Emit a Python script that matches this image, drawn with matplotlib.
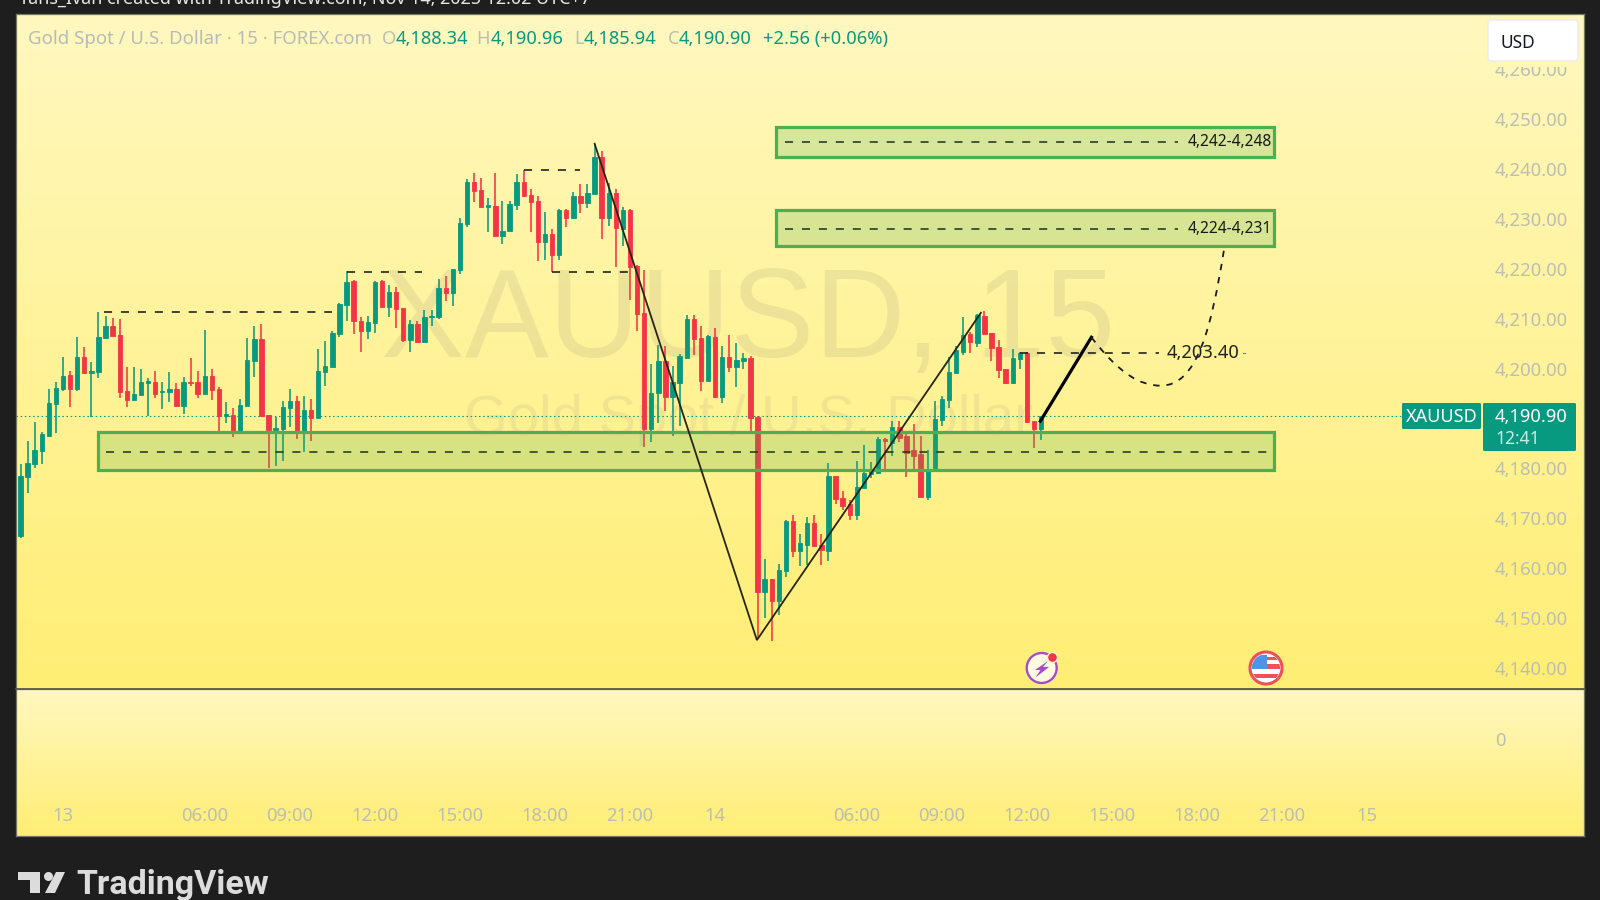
import numpy as np
import matplotlib
matplotlib.use("Agg")
import matplotlib.pyplot as plt
from matplotlib.colors import LinearSegmentedColormap
from matplotlib.patches import Rectangle, Circle, Polygon, FancyBboxPatch, PathPatch
from matplotlib.path import Path

plt.rcParams['font.family'] = ['Noto Sans', 'DejaVu Sans']
plt.rcParams['lines.scale_dashes'] = False

opens = [4166.4,4178.2,4180.9,4183.5,4186.5,4192.9,4195.9,4198.7,4195.9,4202.4,
 4199.1,4199.4,4206.2,4208.6,4206.8,4195.5,4193.7,4194.7,4197.2,4197.4,
 4195.3,4195.3,4195.9,4192.5,4197.4,4197.4,4195.0,4198.6,4195.9,4190.6,
 4190.7,4187.4,4192.5,4201.6,4205.9,4190.7,4187.8,4187.9,4192.2,4193.6,
 4187.4,4191.7,4190.1,4199.4,4200.4,4206.9,4212.8,4217.5,4209.6,4207.6,
 4209.2,4217.5,4212.3,4215.3,4212.1,4205.7,4209.0,4205.3,4210.3,4210.3,
 4216.2,4215.2,4219.7,4229.1,4237.5,4235.9,4232.5,4232.7,4226.7,4227.6,
 4232.9,4237.4,4234.9,4233.7,4225.4,4227.0,4222.8,4231.9,4230.2,4234.7,
 4233.2,4235.1,4242.4,4230.3,4235.2,4228.1,4231.9,4220.5,4211.2,4187.9,
 4195.1,4201.6,4194.4,4197.2,4202.2,4209.9,4206.1,4197.6,4206.4,4194.4,
 4202.4,4200.3,4201.6,4202.1,4190.4,4155.3,4157.8,4153.5,4159.5,4169.4,
 4163.5,4164.7,4169.0,4164.7,4163.5,4178.4,4174.0,4172.8,4170.7,4176.1,
 4178.9,4179.1,4185.9,4185.2,4188.4,4186.6,4183.7,4182.9,4174.2,4179.7,
 4189.7,4193.8,4199.1,4203.4,4206.9,4205.2,4210.6,4207.1,4204.3,4200.0,
 4197.2,4202.0,4203.2,4189.6,4187.9]
highs = [4180.9,4185.6,4189.3,4187.4,4195.9,4197.4,4202.4,4199.6,4206.4,4204.3,
 4201.4,4211.4,4210.6,4210.2,4209.9,4200.3,4200.3,4199.9,4198.1,4199.6,
 4197.4,4199.3,4197.1,4198.4,4202.1,4199.6,4207.8,4199.9,4196.3,4193.4,
 4192.1,4193.9,4206.1,4208.6,4209.0,4190.7,4190.4,4193.6,4195.9,4194.6,
 4194.6,4193.9,4204.0,4205.6,4207.5,4213.2,4219.5,4217.7,4210.3,4210.5,
 4217.5,4217.7,4216.8,4216.3,4212.1,4209.8,4209.5,4211.8,4211.8,4218.0,
 4218.6,4220.0,4230.2,4238.0,4239.3,4238.3,4234.2,4239.3,4233.7,4233.7,
 4239.0,4239.9,4236.0,4234.7,4231.5,4228.0,4232.0,4232.0,4235.5,4237.1,
 4237.0,4245.1,4243.6,4237.3,4236.0,4232.4,4232.0,4220.8,4219.8,4200.9,
 4204.8,4204.6,4200.6,4203.0,4210.8,4210.8,4208.6,4206.8,4208.1,4204.6,
 4206.8,4205.2,4203.1,4202.6,4190.5,4161.8,4157.8,4160.9,4169.6,4170.6,
 4166.8,4170.2,4170.6,4166.8,4181.2,4178.4,4175.5,4173.6,4181.5,4184.7,
 4181.4,4186.4,4186.1,4189.6,4189.6,4187.4,4188.9,4186.6,4183.7,4193.6,
 4194.6,4202.4,4204.6,4210.3,4207.4,4211.0,4211.5,4207.1,4205.8,4200.0,
 4204.0,4203.4,4203.4,4189.6,4190.6]
lows = [4166.0,4175.0,4180.0,4181.0,4186.4,4187.2,4195.6,4192.3,4195.6,4199.1,
 4190.4,4198.1,4205.9,4206.6,4194.1,4192.3,4193.7,4194.7,4190.6,4194.1,
 4191.9,4193.4,4192.5,4190.9,4196.5,4194.1,4195.0,4193.7,4187.4,4189.1,
 4186.3,4187.4,4192.5,4198.4,4190.5,4180.0,4180.4,4181.6,4188.4,4185.9,
 4183.3,4185.6,4190.1,4196.5,4200.3,4206.3,4209.5,4207.0,4203.3,4206.0,
 4207.2,4212.3,4210.3,4208.1,4205.3,4203.3,4205.4,4205.1,4208.5,4210.0,
 4213.5,4212.5,4219.0,4228.4,4233.5,4232.5,4227.5,4226.7,4225.0,4227.6,
 4231.9,4234.7,4227.5,4221.6,4221.8,4219.3,4221.8,4228.4,4230.0,4231.2,
 4232.2,4235.1,4226.0,4228.7,4220.4,4224.5,4213.8,4207.5,4184.4,4185.4,
 4189.1,4191.6,4186.6,4188.5,4202.2,4202.8,4195.6,4197.6,4194.3,4193.1,
 4199.4,4196.3,4200.0,4187.5,4146.0,4150.1,4145.5,4150.7,4158.2,4162.2,
 4160.4,4160.7,4164.4,4160.7,4161.4,4172.8,4171.7,4169.7,4169.7,4175.9,
 4178.1,4178.9,4179.2,4182.6,4185.3,4178.2,4179.2,4174.2,4173.6,4179.7,
 4188.5,4192.2,4199.1,4202.8,4203.1,4204.4,4207.0,4201.6,4198.1,4197.0,
 4197.2,4200.0,4189.1,4184.2,4185.7]
closes = [4178.4,4181.2,4183.7,4186.9,4193.1,4196.2,4198.6,4195.9,4202.4,4199.1,
 4199.6,4206.4,4208.6,4206.6,4195.3,4193.7,4194.9,4197.4,4197.5,4195.0,
 4195.5,4195.9,4192.5,4197.4,4197.1,4195.0,4198.6,4195.7,4190.5,4190.9,
 4187.4,4192.7,4201.8,4205.9,4190.5,4187.7,4188.1,4192.4,4193.6,4187.4,
 4191.7,4190.1,4199.6,4200.6,4207.1,4213.0,4217.4,4209.5,4207.6,4209.4,
 4217.4,4212.3,4215.3,4211.9,4205.7,4209.0,4205.4,4210.3,4210.6,4216.2,
 4215.2,4220.0,4229.3,4237.5,4235.7,4232.5,4232.8,4226.7,4227.7,4233.0,
 4237.4,4234.7,4233.5,4225.4,4227.0,4222.8,4231.9,4230.3,4234.7,4233.2,
 4235.2,4242.4,4230.3,4235.2,4228.2,4231.9,4220.4,4211.0,4187.9,4195.2,
 4201.6,4194.4,4197.4,4202.6,4209.9,4206.0,4197.6,4206.6,4194.3,4202.4,
 4200.3,4201.8,4202.1,4190.1,4155.3,4157.8,4153.5,4159.7,4169.4,4163.5,
 4165.0,4169.0,4164.4,4163.6,4178.4,4173.8,4172.5,4170.7,4176.3,4179.1,
 4179.4,4185.9,4185.6,4188.4,4186.2,4183.2,4182.6,4174.2,4179.9,4189.9,
 4194.0,4199.4,4203.8,4206.8,4205.3,4210.7,4207.0,4204.1,4199.8,4197.1,
 4202.1,4203.1,4189.3,4187.9,4190.5]

price_ticks = [4140,4150,4160,4170,4180,4200,4210,4220,4230,4240,4250,4260]
time_ticks = [6,26,38,50,62,74,86,98,118,130,142,154,166,178,190]
time_labels = ['13','06:00','09:00','12:00','15:00','18:00','21:00','14',
               '06:00','09:00','12:00','15:00','18:00','21:00','15']
zones = [(4179.7,4187.3,4183.3,'',176.9),
         (4224.6,4231.8,4228.1,'4,224-4,231',163.3),
         (4242.4,4248.4,4245.5,'4,242-4,248',163.3)]
zone_starts = [10.9,106.6,106.6]
levels = [(11.8,44.0,4211.4),(46.0,56.6,4219.4),(71.0,79.0,4239.8),(75.0,85.7,4219.3)]
zigzag_x = [81.0,103.9,135.5]
zigzag_y = [4245.1,4145.6,4211.2]
last_price = closes[-1]
target_level = 4203.1

GREEN = '#089981'; RED = '#f23645'; TICK = '#bcbeb4'
W, H = 1600, 900
BG = '#1e1e1e'
fig = plt.figure(figsize=(16, 9), dpi=100, facecolor=BG)
px = 72/100

cmap = LinearSegmentedColormap.from_list('bg', ['#fff8bf', '#ffee74'])
grad = np.linspace(0, 1, 256).reshape(-1, 1)

def pane(top, bottom):
    a = fig.add_axes([16/W, 1-bottom/H, 1568/W, (bottom-top)/H])
    a.imshow(grad, cmap=cmap, aspect='auto', extent=(0,1,0,1), transform=a.transAxes, zorder=0)
    for s in a.spines.values():
        s.set_color('#77775f'); s.set_linewidth(0.9)
    return a

ax = pane(14, 689)
low = pane(689, 836)
ax.set_xlim(-0.635, 220.6)
ax.set_ylim(4135.8, 4271.1)
low.set_xlim(-0.635, 220.6)
low.set_ylim(-97.5, 49.5)

ax.yaxis.tick_right()
ax.set_yticks(price_ticks)
ax.set_yticklabels([f'{p:,.2f}' for p in price_ticks])
ax.tick_params(axis='y', length=0, pad=-89*px, labelsize=13.3, labelcolor=TICK)
ax.set_xticks([])
low.yaxis.tick_right()
low.set_yticks([0]); low.set_yticklabels(['0'])
low.tick_params(axis='y', length=0, pad=-89*px, labelsize=13.3, labelcolor=TICK)
low.set_xticks(time_ticks); low.set_xticklabels(time_labels)
low.tick_params(axis='x', length=0, pad=-29*px, labelsize=13.3, labelcolor=TICK)

# watermark
wm = '#d9cf90'
ax.text(0.4668, 0.4919, 'XAUUSD, 15', transform=ax.transAxes, ha='center', va='baseline',
        family='Liberation Sans', fontsize=90.5, color=wm, alpha=0.45, zorder=1)
ax.text(0.4668, 0.3785, 'Gold Spot / U.S. Dollar', transform=ax.transAxes, ha='center', va='baseline',
        family='Liberation Sans', fontsize=40.5, color=wm, alpha=0.38, zorder=1)

# last price line
ax.hlines(last_price, -0.635, 194.9, color=GREEN, lw=0.8, linestyle=(0, (1.1, 1.9)), zorder=2)

# candles
idx = np.arange(len(opens))
o, h, l, c = map(np.array, (opens, highs, lows, closes))
cols = np.where(c >= o, GREEN, RED)
ax.vlines(idx, l, h, colors=cols, lw=1.15, zorder=3)
ax.bar(idx, np.abs(c-o), bottom=np.minimum(o, c), width=0.62, color=cols,
       edgecolor=cols, linewidth=0.6, zorder=4)

# zones
for (z0, z1, zc, lab, zend), zs in zip(zones, zone_starts):
    ax.add_patch(Rectangle((zs, z0), 176.9-zs, z1-z0, facecolor='#4caf50', alpha=0.22,
                           edgecolor='none', zorder=5))
    ax.add_patch(Rectangle((zs, z0), 176.9-zs, z1-z0, facecolor='none', edgecolor='#4caf50',
                           lw=2.3, zorder=5))
    ax.plot([zs+1.2, zend], [zc, zc], color='#1f3a1c', lw=1.15,
            linestyle=(0, (5.8, 6.4)), zorder=6)
    if lab:
        ax.text(176.5, zc, lab, ha='right', va='center', fontsize=11.2, color='#141a10',
                zorder=7)

# levels
for x0, x1, y in levels:
    ax.plot([x0, x1], [y, y], color='#1a1a1a', lw=1.15, linestyle=(0, (5.8, 6.4)), zorder=6)
ax.plot([141.0, 160.6], [target_level, target_level], color='#1a1a1a', lw=1.15,
        linestyle=(0, (5.8, 6.4)), zorder=6)
ax.plot([172.5, 172.8], [target_level, target_level], color='#1a1a1a', lw=0.8, alpha=0.5, zorder=6)
ax.text(166.9, target_level, '4,203.40', ha='center', va='center', fontsize=13.2, color='#20201a', zorder=7)

# drawings
ax.plot(zigzag_x, zigzag_y, color='#262618', lw=1.3, zorder=6, solid_joinstyle='miter')
ax.plot([143.9, 151.1], [4189.5, 4206.3], color='black', lw=2.3, zorder=6)
curve = Path([(151.1,4206.3),(155,4199),(158,4196.6),(160.9,4196.6),
              (166,4196.6),(168,4208),(169.8,4223.8)],
             [Path.MOVETO,Path.CURVE4,Path.CURVE4,Path.CURVE4,Path.CURVE4,Path.CURVE4,Path.CURVE4])
ax.add_patch(PathPatch(curve, facecolor='none', edgecolor='#1a1a1a', lw=1.3,
                       linestyle=(0, (4.6, 5.0)), zorder=6))

# overlay in pixel units for chrome
ov = fig.add_axes([0, 0, 1, 1], zorder=10)
ov.set_xlim(0, W); ov.set_ylim(H, 0); ov.axis('off'); ov.patch.set_alpha(0)

ov.plot([16, 1584], [689, 689], color='#55554a', lw=1.2)

# legend line
ov.text(28, 39, 'Gold Spot / U.S. Dollar · 15 · FOREX.com', fontsize=13.4, color='#b7bbb9', va='center')
items = [(382,'O',TICK),(396,'4,188.34',GREEN),(476,'H',TICK),(491,'4,190.96',GREEN),
         (574,'L',TICK),(584,'4,185.94',GREEN),(668,'C',TICK),(679,'4,190.90',GREEN),
         (763,'+2.56 (+0.06%)',GREEN)]
for x, s, col in items:
    ov.text(x, 39, s, fontsize=13.2, color=col, va='center')

# USD box and the margin that masks the top tick
ov.add_patch(Rectangle((1486, 18), 94, 48.5, facecolor='#fff7b6', edgecolor='none'))
ov.add_patch(FancyBboxPatch((1488, 20), 90, 41, boxstyle='round,pad=0,rounding_size=4',
                            facecolor='white', edgecolor='#eeeeee', lw=1.2))
ov.text(1501, 43, 'USD', fontsize=12.5, color='#131722', va='center')

# price tags
ov.add_patch(FancyBboxPatch((1402, 403), 79, 26, boxstyle='round,pad=0,rounding_size=1.5',
                            facecolor=GREEN, edgecolor='none'))
ov.add_patch(FancyBboxPatch((1483, 403), 93, 48, boxstyle='round,pad=0,rounding_size=1.5',
                            facecolor=GREEN, edgecolor='none'))
ov.text(1441.5, 417.5, 'XAUUSD', fontsize=13, color='white', ha='center', va='center')
ov.text(1495, 417, '4,190.90', fontsize=13.2, color='white', va='center')
ov.text(1495, 438.5, '12:41', fontsize=12.5, color='#cfeae3', va='center')

# event icons
ov.add_patch(Circle((1041.7, 668), 16.5, facecolor='white', edgecolor='none', alpha=0.85))
ov.add_patch(Circle((1041.7, 668), 15, facecolor='#fffbe0', edgecolor='#a44cc0', lw=1.7))
ov.add_patch(Polygon([(1048,661),(1035,670),(1040.5,670),(1035.5,677.5),(1049,667),(1043,667)],
                     facecolor='#a44cc0', edgecolor='none'))
ov.add_patch(Circle((1052.5, 657.5), 5, facecolor='#f23645', edgecolor='#fff8d0', lw=1))
ov.add_patch(Circle((1266, 668), 16, facecolor='white', edgecolor='#f0505a', lw=2.2))
clip = Circle((1266, 668), 14, transform=ov.transData)
for (x0, y0, w_, h_, col) in [(1250,657,34,3,'#f0505a'),(1250,664,34,5,'#f0505a'),
                              (1250,674,34,4,'#f0505a'),(1250,655,17,14,'#4f94e8')]:
    r = Rectangle((x0, y0), w_, h_, facecolor=col, edgecolor='none')
    ov.add_patch(r); r.set_clip_path(clip)

# logo + brand
logo = '#dcdcdc'
ov.add_patch(Polygon([(18,872),(40,872),(40,893),(30,893),(30,880),(18,880)], facecolor=logo, edgecolor='none'))
ov.add_patch(Circle((48.5, 876.5), 4.5, facecolor=logo, edgecolor='none'))
ov.add_patch(Polygon([(56,872),(65,872),(55,893),(45,893)], facecolor=logo, edgecolor='none'))
ov.text(76, 885, 'TradingView', fontsize=24.5, color=logo, va='center', weight='bold', family='Roboto')

# attribution, cropped by the image's top edge as in the reference
fig.text(18/W, 1-3.5/H, 'Yans_Ivan created with TradingView.com, Nov 14, 2025 12:02 UTC+7',
         fontsize=12.9, color='#e8e8e8', va='baseline')

fig.savefig('out.png', dpi=100, facecolor=BG)
